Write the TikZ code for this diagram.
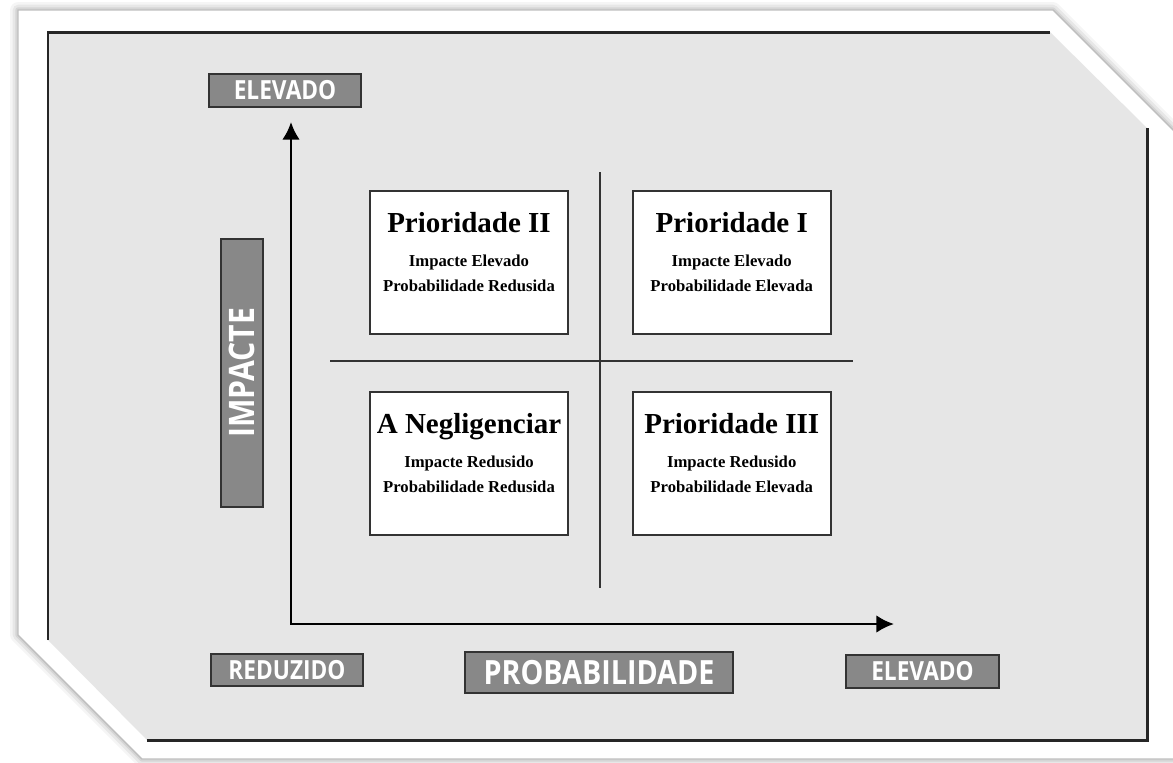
\documentclass[tikz,border=0pt]{standalone}
\usepackage{fontspec}
\setmainfont{Liberation Serif}
\newfontfamily\tabfont[FakeStretch=0.86]{Open Sans}
\usetikzlibrary{positioning,arrows.meta}
\definecolor{panelgray}{HTML}{E6E6E6}
\definecolor{tabgray}{HTML}{888888}
\definecolor{edgegray}{HTML}{333333}
\tikzstyle{quadblock} = [rectangle, draw=edgegray, line width=1pt, fill=white, minimum width=3.96cm, minimum height=2.86cm, inner sep=0pt]
\tikzstyle{tabblock} = [rectangle, draw=edgegray, line width=1pt, fill=tabgray, text=white, inner sep=0pt, font=\tabfont\bfseries]
\tikzstyle{divider} = [draw=edgegray, line width=1.1pt]
\tikzstyle{axis} = [draw, line width=1.5pt, {Latex[length=10pt,width=10pt]}-{Latex[length=10pt,width=10pt]}]
\newcommand{\quadtext}[3]{\parbox[c][2.86cm][t]{3.96cm}{\centering\rule{0pt}{23.8pt}{\fontsize{16.5}{19}\selectfont\bfseries #1}\par\vspace{5pt}{\fontsize{9.5}{14.2}\selectfont\bfseries #2\par #3\par}}}

\begin{document}
\begin{tikzpicture}[x=0.02cm, y=-0.02cm, node distance = 1.3cm]
				\useasboundingbox (0,0) rectangle (1173,762);
				% Card and panel
				\foreach \w/\o in {9/0.04, 6/0.06, 3/0.08}
				\draw[line width=\w pt, black, opacity=\o, line join=round] (18,10) -- (1053,10) -- (1190,147) -- (1190,759) -- (142,759) -- (18,635) -- cycle;
				\draw[fill=white, draw=black!25, line width=0.8pt] (18,10) -- (1053,10) -- (1190,147) -- (1190,759) -- (142,759) -- (18,635) -- cycle;
				\fill[panelgray] (48,32) -- (1050,32) -- (1147,128) -- (1147,740) -- (147,740) -- (48,640) -- cycle;
				\draw[line width=1.7pt, black!85] (48,640) -- (48,32) -- (1050,32);
				\draw[line width=1.7pt, black!85] (1147,128) -- (1147,740) -- (147,740);
				% Place nodes
				\node [quadblock] (prio2) at (469,262.5) {\quadtext{Prioridade II}{Impacte Elevado}{Probabilidade Redusida}};
				\node [quadblock, right = 1.26cm of prio2] (prio1) {\quadtext{Prioridade I}{Impacte Elevado}{Probabilidade Elevada}};
				\node [quadblock, below = 1.12cm of prio2] (neglect) {\quadtext{A Negligenciar}{Impacte Redusido}{Probabilidade Redusida}};
				\node [quadblock, below = 1.12cm of prio1] (prio3) {\quadtext{Prioridade III}{Impacte Redusido}{Probabilidade Elevada}};
				\node [tabblock, minimum width=3.04cm, minimum height=0.66cm, font=\tabfont\bfseries\fontsize{15}{15}\selectfont] (hiimpact) at (285,90.5) {ELEVADO};
				\node [tabblock, minimum width=5.36cm, minimum height=0.84cm, rotate=90, font=\tabfont\bfseries\fontsize{20}{20}\selectfont] (impact) at (242,373) {IMPACTE};
				\node [tabblock, minimum width=3.04cm, minimum height=0.64cm, font=\tabfont\bfseries\fontsize{15}{15}\selectfont] (loprob) at (287,670) {REDUZIDO};
				\node [tabblock, minimum width=5.36cm, minimum height=0.82cm, font=\tabfont\bfseries\fontsize{19}{19}\selectfont] (prob) at (599,672.5) {PROBABILIDADE};
				\node [tabblock, minimum width=3.06cm, minimum height=0.66cm, font=\tabfont\bfseries\fontsize{15}{15}\selectfont] (hiprob) at (922.5,671.5) {ELEVADO};
				% Axes and dividers
				\coordinate (ytip) at (291,122);
				\coordinate (xtip) at (894,624);
				\coordinate (vtop) at (600,172);
				\coordinate (vbot) at (600,588);
				\coordinate (hleft) at (330,361);
				\coordinate (hright) at (853,361);
				\path [divider] (vtop) -- (vbot);
				\path [divider] (hleft) -- (hright);
				\path [axis] (ytip) |- (xtip);
				\end{tikzpicture}
\end{document}
